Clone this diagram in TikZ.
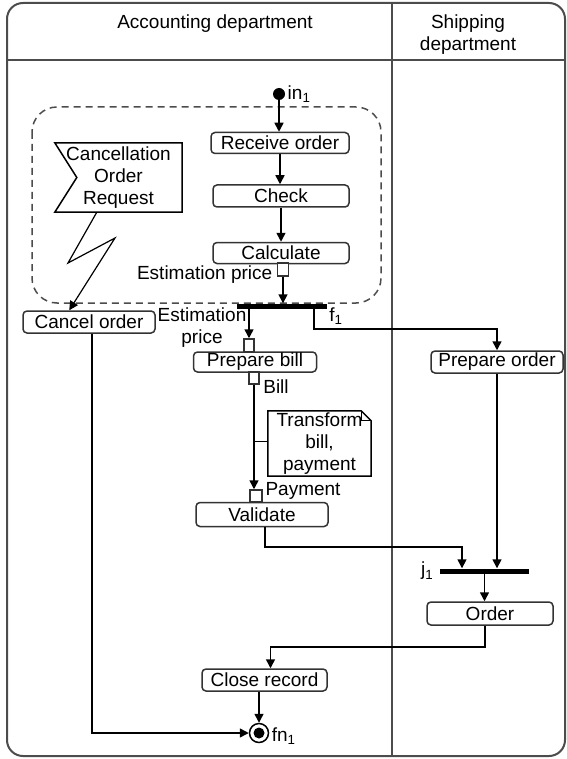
\documentclass[tikz,border=0pt]{standalone}
\usepackage{fontspec}
\setmainfont{Liberation Sans}
\usetikzlibrary{positioning,calc,arrows.meta}

\begin{document}
\begin{tikzpicture}[x=1pt, y=-1pt,
	arr/.style={-{Triangle[width=9pt,length=9pt]},line width=1.5pt},
	line/.style={line width=1.5pt},
	act/.style={rectangle,rounded corners=4pt,draw=black!80,line width=1.5pt,fill=white,inner sep=0pt,minimum height=21pt},
	pin/.style={rectangle,draw=black!80,line width=1.5pt,fill=white,inner sep=0pt,minimum width=10pt,minimum height=12pt},
	bar/.style={rectangle,fill=black,inner sep=0pt,minimum height=5pt},
	lane/.style={line width=2pt,black!70},
	font=\fontsize{19}{22}\selectfont]

    \useasboundingbox (0,0) rectangle (566,759);
    % swimlanes
    \draw [lane, rounded corners=16pt] (7,3) rectangle (565,756);
    \draw [lane] (7,60) -- (565,60);
    \draw [lane] (392,3) -- (392,756);
    \node (ACC) at (215,24) {Accounting department};
    \node (SHIP) at (468,35) [align=center] {Shipping\\department};

    % interruptible region
    \draw [line, black!70, dash pattern=on 7pt off 5pt, rounded corners=25pt] (32,107) rectangle (381,303);

    \node (in1) at (279,94) [circle, fill=black, minimum size=12pt, inner sep=0pt] {};
    \node (in1lbl) at (in1.east) [anchor=west, xshift=-1pt] {in\textsubscript{1}};

    \node (RECV) at (280,143) [act, minimum width=138pt] {Receive order};
    \node (CHECK) at (281,196) [act, minimum width=136pt, minimum height=22pt] {Check};
    \node (CALC) at (281,253) [act, minimum width=136pt] {Calculate};
    \draw [arr] (in1) -- (in1 |- RECV.north);
    \draw [arr] (RECV.south) -- (RECV.south |- CHECK.north);
    \draw [arr] (CHECK.south) -- (CHECK.south |- CALC.north);

    \node (pinEst) at (283,269.5) [pin, minimum width=11pt, minimum height=13pt] {};
    \node (estLbl) at (pinEst.west) [anchor=east, xshift=-1pt, yshift=-5pt] {Estimation price};

    \node (f1) at (282,306) [bar, minimum width=90pt] {};
    \node (f1lbl) at (336,316) {f\textsubscript{1}};
    \draw [arr] (pinEst.south) -- (pinEst.south |- f1.north);

    % signal and cancel
    \node (SIG) at (118.5,177.5) [minimum width=127pt, minimum height=69pt, inner sep=0pt, align=center] {Cancellation\\Order\\Request};
    \draw [line] (SIG.north west) -- (SIG.north east) -- (SIG.south east) -- (SIG.south west) -- ($(SIG.west)+(22,0)$) -- cycle;
    \node (CANCEL) at (89,322) [act, minimum width=132pt, minimum height=22pt] {Cancel order};
    \coordinate (Z1) at (68,263);
    \coordinate (Z2) at (115,238);
    \draw [arr, line width=1.2pt] ($(SIG.south west)+(42,0)$) -- (Z1) -- (Z2) -- ($(CANCEL.north west)+(47,0)$);

    % billing
    \node (PBILL) at (255,362) [act, minimum width=123pt, minimum height=20pt] {Prepare bill};
    \node (pinIn) at (249,345.5) [pin, minimum height=13pt] {};
    \node (estLbl2) at (202,328) [align=center] {Estimation\\price};
    \draw [arr] (f1.south -| pinIn) -- (pinIn.north);
    \node (pinBill) at (254,378) [pin] {};
    \node (billLbl) at (276,387) {Bill};
    \node (VALID) at (262,514.5) [act, minimum width=132pt, minimum height=24pt] {Validate};
    \node (pinPay) at (256,496) [pin, minimum width=12pt] {};
    \node (payLbl) at (303,491) {Payment};
    \draw [arr] (pinBill.south) -- (pinBill.south |- pinPay.north);

    \node (NOTE) at (319.5,443.5) [minimum width=103pt, minimum height=65pt, inner sep=0pt, align=center] {Transform\\bill,\\payment};
    \draw [line] (NOTE.north west) -- ($(NOTE.north east)+(-10,0)$) -- ($(NOTE.north east)+(0,10)$) -- (NOTE.south east) -- (NOTE.south west) -- cycle;
    \draw [line, line width=1pt] ($(NOTE.north east)+(-10,0)$) -- ($(NOTE.north east)+(-10,10)$) -- ($(NOTE.north east)+(0,10)$);
    \draw [line] ($(NOTE.west)+(0,-2)$) -- ($(NOTE.west -| pinBill)+(0,-2)$);

    % shipping
    \node (PORD) at (497,362) [act, minimum width=132pt, minimum height=22pt] {Prepare order};
    \coordinate (FO) at (314,329);
    \draw [arr] (f1.south -| FO) -- (FO) -| (PORD.north);

    \node (j1) at (484.5,571) [bar, minimum width=89pt] {};
    \node (j1lbl) at (j1.west) [anchor=east, xshift=-3pt] {j\textsubscript{1}};
    \draw [arr] (PORD.south) -- (PORD.south |- j1.north);
    \coordinate (VJ) at (462,547);
    \draw [arr] ($(VALID.south)+(3,0)$) |- (VJ) -- (VJ |- j1.north);

    \node (ORD) at (490,613.5) [act, minimum width=126pt, minimum height=23pt] {Order};
    \draw [arr] (j1.south) -- (j1.south |- ORD.north);

    % closing
    \node (CLOSE) at (264.5,680) [act, minimum width=125pt, minimum height=22pt] {Close record};
    \coordinate (OC) at (485,647);
    \draw [arr] (ORD.south -| OC) -- (OC) -| ($(CLOSE.north)+(6,0)$);

    \node (fn1) at (259,733) [circle, draw=black, line width=1.5pt, fill=white, minimum size=19pt, inner sep=0pt] {};
    \node (fn1dot) at (fn1) [circle, fill=black, minimum size=11pt, inner sep=0pt] {};
    \node (fn1lbl) at (fn1.east) [anchor=west, xshift=-1pt, yshift=-3pt] {fn\textsubscript{1}};
    \draw [arr] (CLOSE.south -| fn1) -- (fn1.north);
    \draw [arr] ($(CANCEL.south)+(3,0)$) |- (fn1.west);

\end{tikzpicture}
\end{document}
